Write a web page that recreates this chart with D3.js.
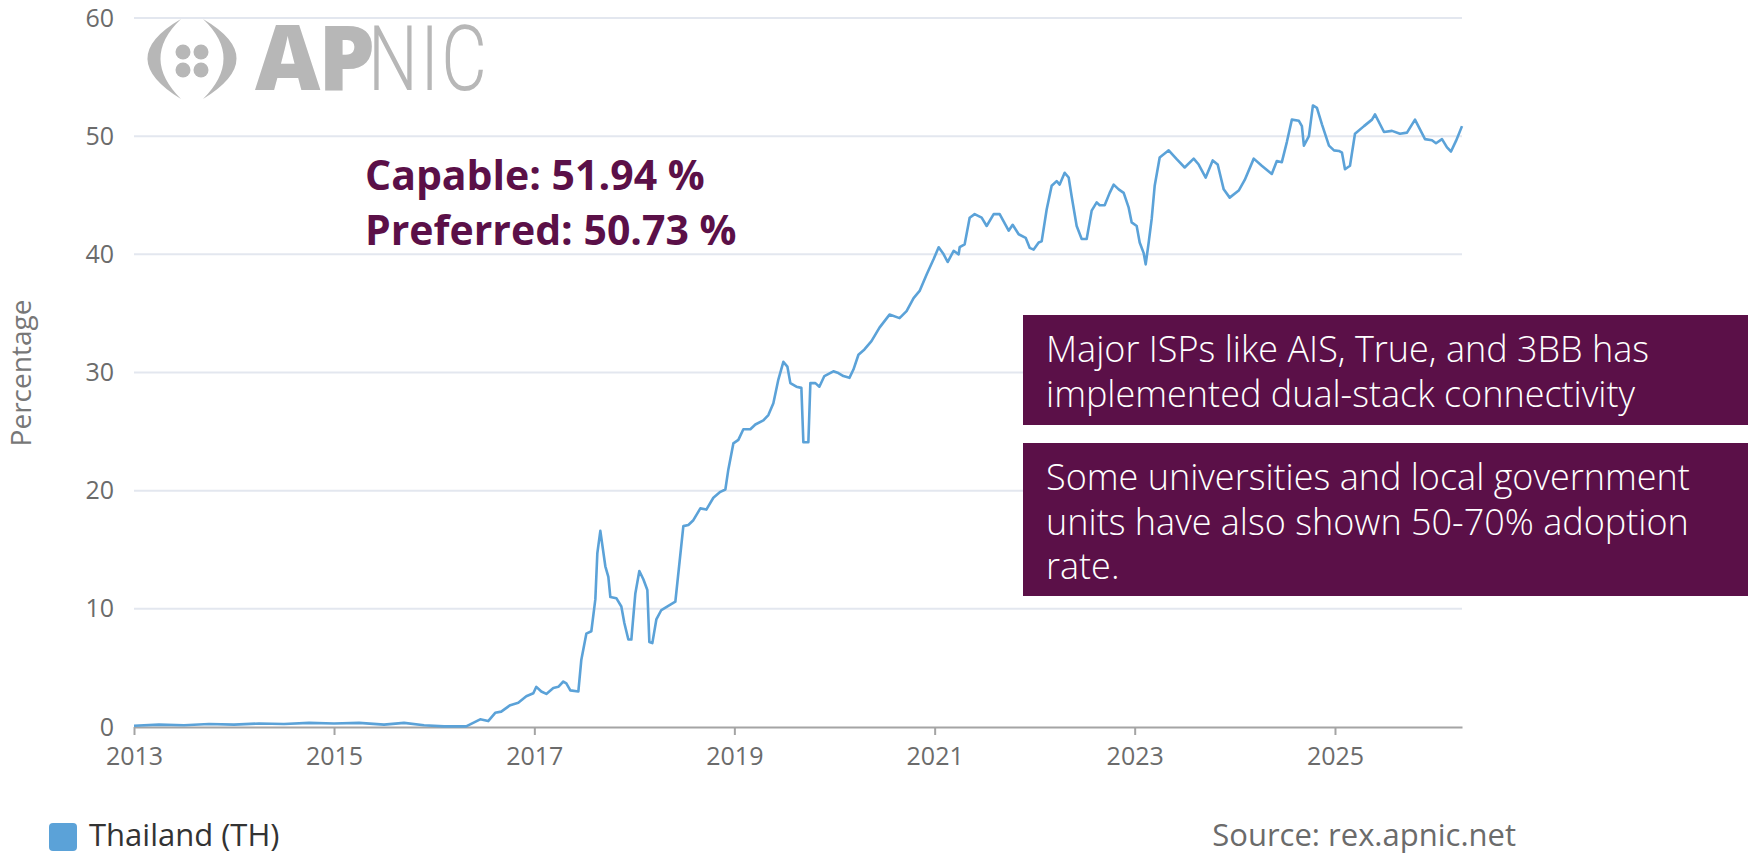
<!DOCTYPE html>
<html>
<head>
<meta charset="utf-8">
<script src="https://cdnjs.cloudflare.com/ajax/libs/d3/7.8.5/d3.min.js"></script>
<style>
  html, body { margin: 0; padding: 0; background: #fff; }
  svg { display: block; font-family: "Open Sans", "Noto Sans", sans-serif; }
</style>
</head>
<body>
<div id="chart"></div>
<script>
// sample dates as decimal years
const sampleYears = [
  2013.00, 2013.25, 2013.50, 2013.75, 2014.00, 2014.25, 2014.50, 2014.75, 2015.00, 2015.25,
  2015.50, 2015.70, 2015.90, 2016.10, 2016.32, 2016.46, 2016.54, 2016.61, 2016.67, 2016.76,
  2016.84, 2016.92, 2016.99, 2017.02, 2017.07, 2017.12, 2017.19, 2017.24, 2017.29, 2017.32,
  2017.36, 2017.44, 2017.47, 2017.52, 2017.57, 2017.61, 2017.63, 2017.66, 2017.71, 2017.74,
  2017.76, 2017.82, 2017.87, 2017.90, 2017.94, 2017.97, 2018.01, 2018.05, 2018.09, 2018.13,
  2018.15, 2018.18, 2018.22, 2018.27, 2018.34, 2018.41, 2018.49, 2018.54, 2018.59, 2018.66,
  2018.72, 2018.79, 2018.86, 2018.91, 2018.94, 2018.99, 2019.04, 2019.09, 2019.16, 2019.21,
  2019.29, 2019.34, 2019.39, 2019.44, 2019.49, 2019.53, 2019.56, 2019.62, 2019.67, 2019.69,
  2019.74, 2019.76, 2019.81, 2019.85, 2019.90, 2019.99, 2020.04, 2020.09, 2020.15, 2020.19,
  2020.24, 2020.30, 2020.37, 2020.45, 2020.55, 2020.65, 2020.72, 2020.79, 2020.85, 2020.92,
  2020.99, 2021.04, 2021.09, 2021.13, 2021.19, 2021.24, 2021.25, 2021.30, 2021.35, 2021.40,
  2021.47, 2021.52, 2021.59, 2021.65, 2021.74, 2021.78, 2021.84, 2021.91, 2021.95, 2021.99,
  2022.04, 2022.07, 2022.12, 2022.17, 2022.22, 2022.25, 2022.30, 2022.34, 2022.37, 2022.42,
  2022.47, 2022.52, 2022.57, 2022.62, 2022.65, 2022.70, 2022.75, 2022.79, 2022.84, 2022.89,
  2022.94, 2022.97, 2023.02, 2023.05, 2023.09, 2023.11, 2023.14, 2023.17, 2023.20, 2023.25,
  2023.34, 2023.42, 2023.50, 2023.59, 2023.64, 2023.71, 2023.78, 2023.83, 2023.89, 2023.95,
  2024.04, 2024.10, 2024.19, 2024.27, 2024.37, 2024.42, 2024.47, 2024.52, 2024.57, 2024.64,
  2024.67, 2024.69, 2024.74, 2024.78, 2024.82, 2024.87, 2024.94, 2024.99, 2025.04, 2025.07,
  2025.10, 2025.15, 2025.20, 2025.29, 2025.37, 2025.40, 2025.49, 2025.57, 2025.65, 2025.72,
  2025.80, 2025.90, 2025.97, 2026.01, 2026.07, 2026.12, 2026.16, 2026.21, 2026.27
];

// IPv6 capable share (%) for Thailand
const ipv6Pct = [
  0.10, 0.20, 0.15, 0.25, 0.20, 0.30, 0.25, 0.35, 0.30, 0.35,
  0.20, 0.35, 0.15, 0.05, 0.05, 0.65, 0.50, 1.20, 1.30, 1.85,
  2.05, 2.60, 2.85, 3.40, 3.00, 2.80, 3.30, 3.40, 3.85, 3.70,
  3.10, 3.00, 5.70, 7.90, 8.10, 10.8, 14.7, 16.6, 13.6, 12.7,
  11.0, 10.9, 10.2, 8.80, 7.40, 7.40, 11.3, 13.2, 12.5, 11.6,
  7.20, 7.10, 9.10, 9.90, 10.25, 10.6, 17.0, 17.1, 17.5, 18.5,
  18.4, 19.4, 19.9, 20.1, 21.8, 24.0, 24.3, 25.2, 25.2, 25.6,
  25.95, 26.4, 27.4, 29.4, 30.9, 30.5, 29.1, 28.8, 28.7, 24.1,
  24.1, 29.1, 29.1, 28.8, 29.7, 30.1, 29.95, 29.7, 29.55, 30.25,
  31.5, 31.95, 32.65, 33.8, 34.9, 34.6, 35.2, 36.3, 36.9, 38.3,
  39.6, 40.6, 40.0, 39.35, 40.3, 40.0, 40.6, 40.85, 43.1, 43.4,
  43.1, 42.4, 43.4, 43.4, 42.0, 42.5, 41.7, 41.4, 40.55, 40.4,
  41.0, 41.1, 43.8, 45.8, 46.2, 45.9, 46.9, 46.5, 44.9, 42.4,
  41.3, 41.3, 43.7, 44.4, 44.15, 44.15, 45.2, 45.9, 45.5, 45.2,
  43.95, 42.7, 42.4, 41.0, 40.1, 39.15, 41.0, 43.0, 45.8, 48.2,
  48.8, 48.05, 47.35, 48.1, 47.6, 46.5, 47.95, 47.6, 45.5, 44.8,
  45.4, 46.3, 48.1, 47.5, 46.8, 47.9, 47.8, 49.5, 51.4, 51.3,
  50.85, 49.2, 50.0, 52.6, 52.4, 51.0, 49.2, 48.8, 48.75, 48.6,
  47.2, 47.5, 50.2, 50.85, 51.4, 51.85, 50.35, 50.45, 50.2, 50.3,
  51.4, 49.75, 49.65, 49.4, 49.75, 49.05, 48.7, 49.6, 50.85
];

const yTickValues = [0, 10, 20, 30, 40, 50, 60];
const xTickYears = [2013, 2015, 2017, 2019, 2021, 2023, 2025];

const statLines = ["Capable: 51.94 %", "Preferred: 50.73 %"];
const noteBoxes = [
  ["Major ISPs like AIS, True, and 3BB has", "implemented dual-stack connectivity"],
  ["Some universities and local government", "units have also shown 50-70% adoption", "rate."]
];
const legendLabel = "Thailand (TH)";
const sourceLabel = "Source: rex.apnic.net";

// decimal year -> UTC date
function yearToDate(y) {
  const yr = Math.floor(y);
  const start = Date.UTC(yr, 0, 1);
  const end = Date.UTC(yr + 1, 0, 1);
  return new Date(start + (y - yr) * (end - start));
}

const width = 1748;
const height = 855;
const lineColor = "#5ba2d8";
const plum = "#5b1048";

const series = sampleYears.map((y, i) => ({ date: yearToDate(y), value: ipv6Pct[i] }));

const svg = d3.select("#chart").append("svg")
  .attr("width", width)
  .attr("height", height);

const x = d3.scaleUtc()
  .domain([yearToDate(2013), yearToDate(sampleYears[sampleYears.length - 1])])
  .range([134, 1462]);

const y = d3.scaleLinear()
  .domain([0, 60])
  .range([727, 18]);

// gridlines
svg.append("g")
  .selectAll("line")
  .data(yTickValues.filter(d => d > 0))
  .enter()
  .append("line")
  .attr("x1", x.range()[0])
  .attr("x2", x.range()[1])
  .attr("y1", d => y(d))
  .attr("y2", d => y(d))
  .attr("stroke", "#e3e7ef")
  .attr("stroke-width", 2);

// APNIC watermark logo
const logo = svg.append("g")
  .attr("fill", "#b7b7b7");

logo.append("path").attr("d", "M181,19 Q114,58 181,99 Q140,58 181,19 Z");
logo.append("path").attr("d", "M203,19 Q270,58 203,99 Q244,58 203,19 Z");
[[183, 52], [201, 52], [183, 70], [201, 70]].forEach(p => {
  logo.append("circle").attr("cx", p[0]).attr("cy", p[1]).attr("r", 7.5);
});
logo.append("text")
  .attr("x", 255)
  .attr("y", 90)
  .attr("font-size", 90)
  .attr("font-weight", 800)
  .attr("letter-spacing", -2)
  .text("AP");
logo.append("text")
  .attr("transform", "translate(368,90) scale(0.78,1)")
  .attr("font-family", "Roboto, 'Open Sans', sans-serif")
  .attr("font-size", 90)
  .attr("font-weight", 300)
  .attr("letter-spacing", 3)
  .text("NIC");

// y axis (labels only)
const yAxis = d3.axisLeft(y)
  .tickValues(yTickValues)
  .tickSize(0)
  .tickPadding(0);

svg.append("g")
  .attr("transform", "translate(114,0)")
  .call(yAxis)
  .call(g => g.select(".domain").remove())
  .call(g => g.selectAll("text")
    .attr("font-family", "'Open Sans', sans-serif")
    .attr("font-size", 25)
    .attr("fill", "#6b6b6b"));

// x axis
const xAxis = d3.axisBottom(x)
  .tickValues(xTickYears.map(yearToDate))
  .tickFormat(d3.utcFormat("%Y"))
  .tickSize(8)
  .tickSizeOuter(0)
  .tickPadding(12);

svg.append("g")
  .attr("transform", "translate(0,727)")
  .call(xAxis)
  .call(g => g.select(".domain").attr("stroke", "#a4a4a4").attr("stroke-width", 2))
  .call(g => g.selectAll(".tick line").attr("stroke", "#a4a4a4").attr("stroke-width", 2))
  .call(g => g.selectAll("text")
    .attr("font-family", "'Open Sans', sans-serif")
    .attr("font-size", 25)
    .attr("fill", "#6b6b6b"));

// y axis title
svg.append("text")
  .attr("transform", "translate(31,373) rotate(-90)")
  .attr("text-anchor", "middle")
  .attr("font-size", 28)
  .attr("fill", "#777")
  .text("Percentage");

// the series
const line = d3.line()
  .x(d => x(d.date))
  .y(d => y(d.value));

svg.append("path")
  .datum(series)
  .attr("d", line)
  .attr("fill", "none")
  .attr("stroke", lineColor)
  .attr("stroke-width", 2.6)
  .attr("stroke-linejoin", "round");

// headline numbers
svg.append("g")
  .selectAll("text")
  .data(statLines)
  .enter()
  .append("text")
  .attr("x", 365)
  .attr("y", (d, i) => 190 + i * 55)
  .attr("font-size", 41)
  .attr("font-weight", 700)
  .attr("fill", plum)
  .text(d => d);

// annotation boxes
const boxTops = [315, 443];
const boxHeights = [110, 153];
noteBoxes.forEach((lines, i) => {
  const g = svg.append("g");
  g.append("rect")
    .attr("x", 1023)
    .attr("y", boxTops[i])
    .attr("width", width - 1023)
    .attr("height", boxHeights[i])
    .attr("fill", plum);
  g.selectAll("text")
    .data(lines)
    .enter()
    .append("text")
    .attr("x", 1046)
    .attr("y", (d, j) => boxTops[i] + 47 + j * 44.5)
    .attr("font-size", 36)
    .attr("font-weight", 300)
    .attr("fill", "#fff")
    .text(d => d);
});

// legend
svg.append("rect")
  .attr("x", 49)
  .attr("y", 823)
  .attr("width", 28)
  .attr("height", 28)
  .attr("rx", 4)
  .attr("fill", lineColor);

svg.append("text")
  .attr("x", 89)
  .attr("y", 846)
  .attr("font-size", 31)
  .attr("fill", "#333")
  .text(legendLabel);

svg.append("text")
  .attr("x", 1516)
  .attr("y", 846)
  .attr("text-anchor", "end")
  .attr("font-size", 31)
  .attr("fill", "#6b6b6b")
  .text(sourceLabel);
</script>
</body>
</html>
